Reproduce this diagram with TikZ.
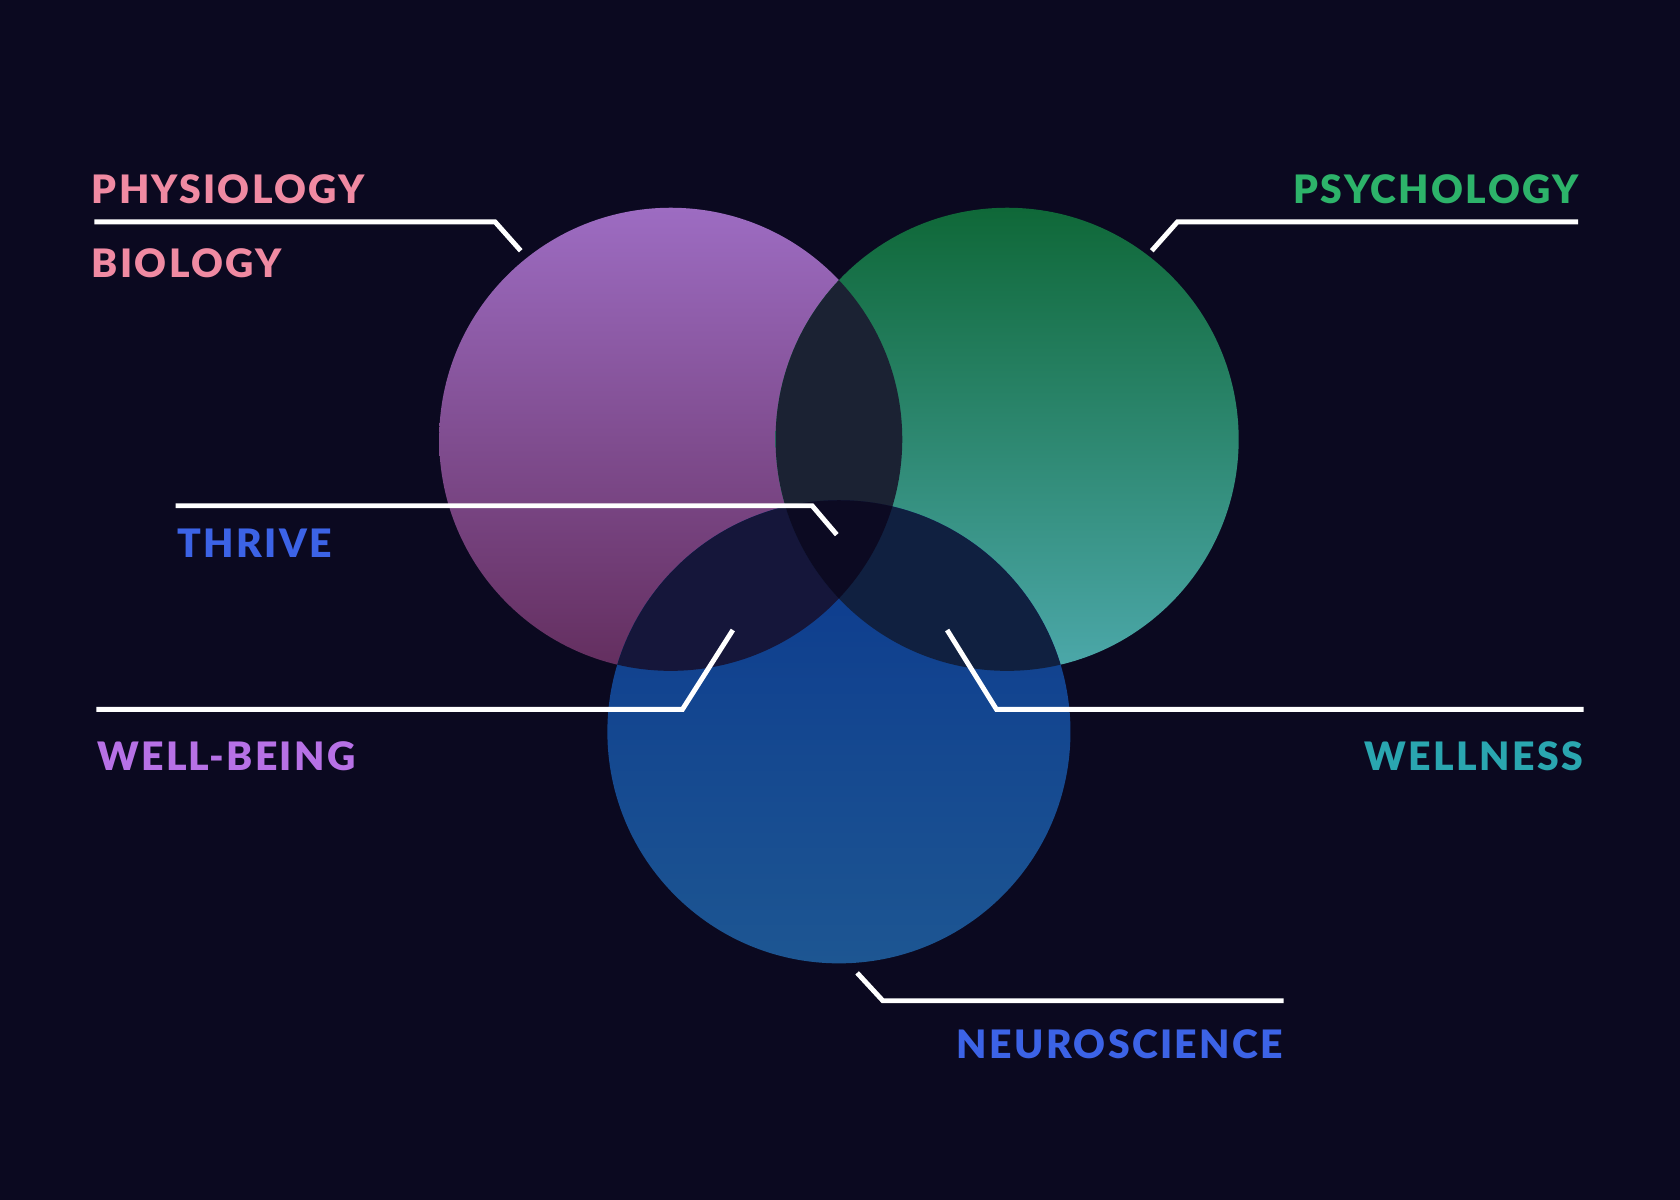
\documentclass[tikz,border=0pt]{standalone}
\usepackage{fontspec}
\setmainfont{Lato Black}
\definecolor{bgdark}{HTML}{0B0920}
\definecolor{pinklbl}{HTML}{F08AA2}
\definecolor{greenlbl}{HTML}{2DB36A}
\definecolor{bluelbl}{HTML}{3C63E6}
\definecolor{purplelbl}{HTML}{B771E6}
\definecolor{teallbl}{HTML}{2AA6B0}
\tikzset{
  lbl/.style={inner sep=0pt,font=\fontsize{10.4}{10.4}\selectfont\addfontfeature{LetterSpace=6}},
  leader/.style={white,line width=1.3pt},
}
\begin{document}
\begin{tikzpicture}[x=0.01cm,y=-0.01cm]
\fill[bgdark] (0,0) rectangle (1568,1120);
\useasboundingbox (0,0) rectangle (1568,1120);
% circles
\coordinate (phys) at (626,410);
\coordinate (psy) at (940,410);
\coordinate (neuro) at (783,683);
\shade[top color={rgb,255:red,157;green,108;blue,194},bottom color={rgb,255:red,99;green,46;blue,94}] (phys) circle[radius=2.16cm];
\shade[shading angle=20,top color={rgb,255:red,15;green,104;blue,56},bottom color={rgb,255:red,76;green,168;blue,170}] (psy) circle[radius=2.16cm];
\shade[top color={rgb,255:red,11;green,56;blue,142},bottom color={rgb,255:red,29;green,86;blue,146}] (neuro) circle[radius=2.16cm];
% overlaps
\begin{scope}
  \clip (phys) circle[radius=2.16cm];
  \fill[fill={rgb,255:red,27;green,34;blue,51}] (psy) circle[radius=2.16cm];
  \fill[fill={rgb,255:red,21;green,22;blue,58}] (neuro) circle[radius=2.16cm];
\end{scope}
\begin{scope}
  \clip (psy) circle[radius=2.16cm];
  \fill[fill={rgb,255:red,16;green,32;blue,64}] (neuro) circle[radius=2.16cm];
  \clip (phys) circle[radius=2.16cm];
  \fill[fill={rgb,255:red,12;green,10;blue,34}] (neuro) circle[radius=2.16cm];
\end{scope}
% labels
\node[lbl,text=pinklbl,anchor=base west] (physlbl) at (85,190) {PHYSIOLOGY};
\node[lbl,text=pinklbl,anchor=base west] (biolbl) at (85,259) {BIOLOGY};
\node[lbl,text=greenlbl,anchor=base east] (psylbl) at (1474,190) {PSYCHOLOGY};
\node[lbl,text=bluelbl,anchor=base west] (thrivelbl) at (165,520) {THRIVE};
\node[lbl,text=purplelbl,anchor=base west] (welllbl) at (90,719) {WELL-BEING};
\node[lbl,text=teallbl,anchor=base east] (wellnesslbl) at (1478,719) {WELLNESS};
\node[lbl,text=bluelbl,anchor=base east] (neurolbl) at (1198,988) {NEUROSCIENCE};
% leaders
\draw[leader] (88,207) -- (462,207) -- (486,234);
\draw[leader] (1473,207) -- (1099,207) -- (1075,234);
\draw[leader] (164,472) -- (758,472) -- (781,499);
\draw[leader] (90,662) -- (637,662) -- (684,588);
\draw[leader] (1478,662) -- (930,662) -- (884,588);
\draw[leader] (1198,934) -- (824,934) -- (800,908);
\end{tikzpicture}
\end{document}
